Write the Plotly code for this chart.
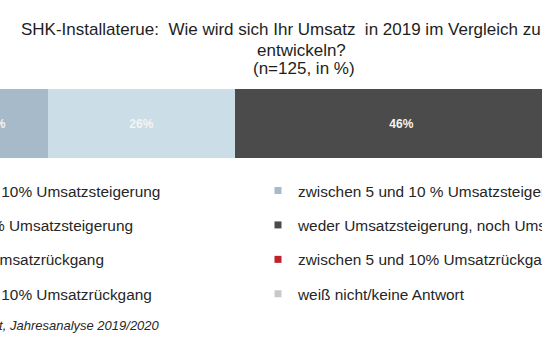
import plotly.graph_objects as go

# ---- data ----
categories = ["Umsatz 2019"]
series_names = [
    "mehr als 10% Umsatzsteigerung",
    "zwischen 5 und 10 % Umsatzsteigerung",
    "bis zu 5% Umsatzsteigerung",
    "weder Umsatzsteigerung, noch Umsatzrückgang",
    "bis 5% Umsatzrückgang",
    "zwischen 5 und 10% Umsatzrückgang",
    "mehr als 10% Umsatzrückgang",
    "weiß nicht/keine Antwort",
]
series_values = [4, 15, 26, 46, 5, 2, 1, 1]
series_colors = ["#6f8ca6", "#a7bac9", "#cbdde6", "#4b4b4b",
                 "#e8a0a0", "#c0212b", "#7a1015", "#c9c9c9"]
title_lines = [
    "SHK-Installaterue:\u00a0 Wie wird sich Ihr Umsatz\u00a0 in 2019 im Vergleich zu 2018",
    "entwickeln?",
    "(n=125, in %)",
]
source_text = "Quelle: BauInfoConsult, Jahresanalyse 2019/2020"

W, H = 542, 340
FONT = "Liberation Sans, Arial"
fig = go.Figure()

for i, (name, val, col) in enumerate(zip(series_names, series_values, series_colors)):
    fig.add_trace(go.Bar(
        x=[val], y=categories, orientation="h", width=1,
        marker=dict(color=col, line=dict(width=0)),
        text=[f"{val}%"], textposition="inside", insidetextanchor="middle",
        textangle=0, constraintext="none",
        textfont=dict(family=FONT, size=12, color="#f4f4f4", weight="bold"),
        showlegend=False, hoverinfo="skip", cliponaxis=True,
    ))

# legend entries (left column: even indices, right column: odd indices)
for i, (name, col) in enumerate(zip(series_names, series_colors)):
    fig.add_trace(go.Scatter(
        x=[None], y=[None], mode="markers", name=name,
        marker=dict(symbol="square", size=7, color=col),
        legend="legend" if i % 2 == 0 else "legend2",
        legendgroup=f"g{i}", showlegend=True,
    ))

legend_font = dict(family=FONT, size=15.4, color="#262626")
fig.update_layout(
    width=W, height=H,
    margin=dict(l=0, r=0, t=0, b=0, autoexpand=False),
    paper_bgcolor="white", plot_bgcolor="white",
    barmode="stack",
    bargap=0,
    xaxis=dict(range=[12.43, 87.4], visible=False, fixedrange=True),
    yaxis=dict(range=[-3.138, 1.79], visible=False, fixedrange=True,
               type="category"),
    legend=dict(x=-102 / W, y=1 - 174 / H, xanchor="left", yanchor="top",
                orientation="v", font=legend_font, tracegroupgap=11.4,
                bgcolor="rgba(0,0,0,0)", itemsizing="trace"),
    legend2=dict(x=258 / W, y=1 - 174 / H, xanchor="left", yanchor="top",
                 orientation="v", font=legend_font, tracegroupgap=11.4,
                 bgcolor="rgba(0,0,0,0)", itemsizing="trace"),
    annotations=[
        dict(text=title_lines[0], xref="paper", yref="paper",
             x=19 / W, y=1 - 29.5 / H, xanchor="left", yanchor="middle",
             showarrow=False,
             font=dict(family=FONT, size=17, color="#1e1e1e")),
        dict(text=title_lines[1], xref="paper", yref="paper",
             x=301.5 / W, y=1 - 50 / H, xanchor="center", yanchor="middle",
             showarrow=False,
             font=dict(family=FONT, size=17, color="#1e1e1e")),
        dict(text=title_lines[2], xref="paper", yref="paper",
             x=303.5 / W, y=1 - 69 / H, xanchor="center", yanchor="middle",
             showarrow=False,
             font=dict(family=FONT, size=17, color="#1e1e1e")),
        dict(text=f"<i>{source_text}</i>", xref="paper", yref="paper",
             x=162 / W, y=1 - 325 / H, xanchor="right", yanchor="middle",
             showarrow=False,
             font=dict(family=FONT, size=13, color="#262626")),
    ],
)

fig.write_html("out.html")
